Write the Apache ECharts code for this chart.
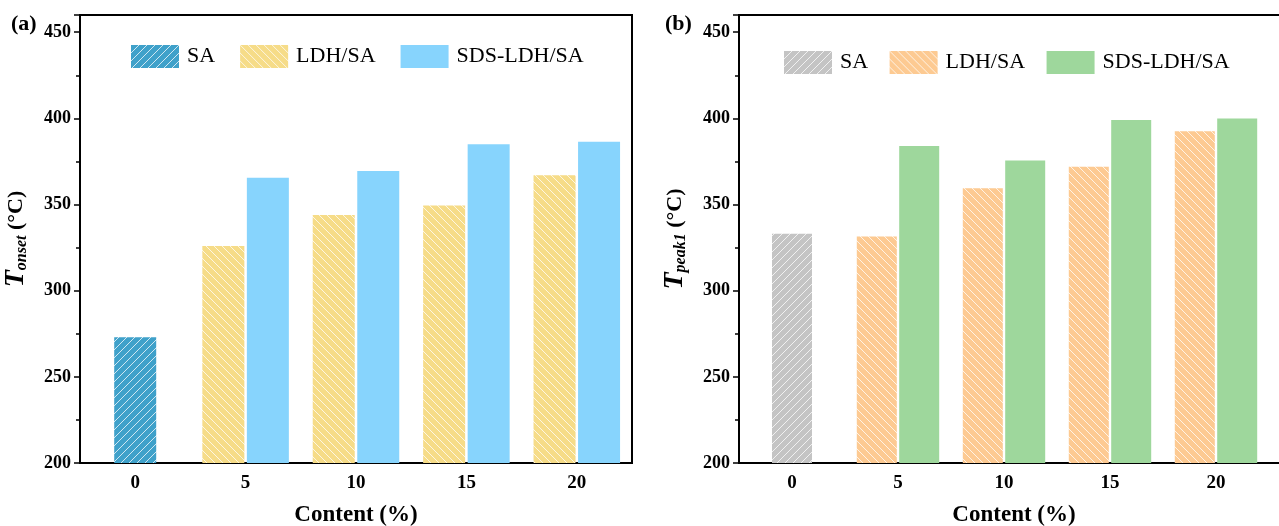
<!DOCTYPE html>
<html>
<head>
<meta charset="utf-8">
<script src="https://cdn.jsdelivr.net/npm/echarts@6/dist/echarts.min.js"></script>
<style>
  html, body { margin: 0; padding: 0; background: #fff; }
  #chart { width: 1279px; height: 526px; }
</style>
</head>
<body>
<div id="chart"></div>
<script>
// categories: content (%)
const contents = ['0', '5', '10', '15', '20']

// (a) onset temperature, °C
const onsetSA = [273, null, null, null, null]
const onsetLDH = [null, 326, 344, 349.5, 367]
const onsetSDS = [null, 365.5, 369.5, 385, 386.5]

// (b) first peak temperature, °C
const peakSA = [333, null, null, null, null]
const peakLDH = [null, 331.5, 359.5, 372, 392.5]
const peakSDS = [null, 384, 375.5, 399, 400]

const yTicks = { min: 200, max: 460, interval: 50 }

const FONT = '"Liberation Serif", "Times New Roman", serif'

// hatched fill: base colour + thin white diagonals
function hatch(base, dir) {
  const s = 8
  const c = document.createElement('canvas')
  c.width = s
  c.height = s
  const ctx = c.getContext('2d')
  ctx.fillStyle = base
  ctx.fillRect(0, 0, s, s)
  ctx.strokeStyle = 'rgba(255,255,255,0.75)'
  ctx.lineWidth = 1
  ctx.beginPath()
  if (dir === '/') {
    ctx.moveTo(-1, s + 1); ctx.lineTo(s + 1, -1)
    ctx.moveTo(-1, 1); ctx.lineTo(1, -1)
    ctx.moveTo(s - 1, s + 1); ctx.lineTo(s + 1, s - 1)
  } else {
    ctx.moveTo(-1, -1); ctx.lineTo(s + 1, s + 1)
    ctx.moveTo(-1, s - 1); ctx.lineTo(1, s + 1)
    ctx.moveTo(s - 1, -1); ctx.lineTo(s + 1, 1)
  }
  ctx.stroke()
  return { image: c, repeat: 'repeat' }
}

function yAxisOf(gridIndex, sub) {
  return {
    type: 'value',
    gridIndex,
    min: yTicks.min,
    max: yTicks.max,
    interval: yTicks.interval,
    name: '{t|T}{s|' + sub + '}{u| (°C)}',
    nameLocation: 'middle',
    nameGap: 50,
    nameTextStyle: {
      rich: {
        t: { fontFamily: FONT, fontSize: 28, fontStyle: 'italic', fontWeight: 'bold', color: '#000' },
        s: { fontFamily: FONT, fontSize: 16, fontStyle: 'italic', fontWeight: 'bold', color: '#000', verticalAlign: 'bottom', padding: [12, 0, 0, 0] },
        u: { fontFamily: FONT, fontSize: 22, fontWeight: 'bold', color: '#000' }
      }
    },
    axisLine: { show: true, lineStyle: { color: '#000', width: 2 } },
    axisTick: { show: true, length: 6, lineStyle: { color: '#000', width: 1.5 } },
    minorTick: { show: true, splitNumber: 2, length: 4, lineStyle: { color: '#000', width: 1.5 } },
    axisLabel: {
      color: '#000', fontFamily: FONT, fontSize: 18, fontWeight: 'bold', margin: 9,
      showMaxLabel: false
    },
    splitLine: { show: false }
  }
}

function xAxisOf(gridIndex, visible, namePad) {
  return {
    type: 'category',
    gridIndex,
    data: contents,
    show: visible,
    name: 'Content (%)',
    nameLocation: 'middle',
    nameGap: 41,
    nameTextStyle: { color: '#000', fontFamily: FONT, fontSize: 23, fontWeight: 'bold', padding: namePad },
    axisLine: { lineStyle: { color: '#000', width: 2 } },
    axisTick: { show: false },
    axisLabel: { color: '#000', fontFamily: FONT, fontSize: 19, fontWeight: 'bold', margin: 11 }
  }
}

function legendOf(left, top, gap, names) {
  return {
    left, top,
    data: names,
    icon: 'rect',
    itemWidth: 48,
    itemHeight: 23,
    itemGap: gap,
    selectedMode: false,
    textStyle: { color: '#000', fontFamily: FONT, fontSize: 22, padding: [0, 0, 0, 3] }
  }
}

function bar(name, data, xi, yi, color, width) {
  return {
    name,
    type: 'bar',
    xAxisIndex: xi,
    yAxisIndex: yi,
    data,
    barWidth: width,
    barGap: '6%',
    itemStyle: { color }
  }
}

const colA = { sa: '#3fa1ca', ldh: '#f6dc88', sds: '#87d4fd' }
const colB = { sa: '#c4c4c4', ldh: '#fdca92', sds: '#9ed79c' }

const chart = echarts.init(document.getElementById('chart'))

chart.setOption({
  animation: false,
  backgroundColor: '#fff',
  textStyle: { fontFamily: FONT },
  title: [
    { text: '(a)', left: 6, top: 8, textStyle: { fontFamily: FONT, fontSize: 22, fontWeight: 'bold', color: '#000' } },
    { text: '(b)', left: 660, top: 8, textStyle: { fontFamily: FONT, fontSize: 22, fontWeight: 'bold', color: '#000' } }
  ],
  legend: [
    legendOf(126, 40, 25, ['SA', 'LDH/SA', 'SDS-LDH/SA']),
    legendOf(779, 46, 16, ['SA ', 'LDH/SA ', 'SDS-LDH/SA '])
  ],
  grid: [
    { left: 80, top: 15, width: 552, height: 448, outerBoundsMode: 'none', show: true, borderColor: '#000', borderWidth: 2 },
    { left: 739, top: 15, width: 530, height: 448, outerBoundsMode: 'none', show: false },
    // outer frame of (b), its right edge runs past the picture
    { left: 739, top: 15, width: 580, height: 448, outerBoundsMode: 'none', show: true, borderColor: '#000', borderWidth: 2 }
  ],
  xAxis: [
    xAxisOf(0, true, [0, 0, 0, 0]),
    xAxisOf(0, false, [0, 0, 0, 0]),
    xAxisOf(1, true, [0, 0, 0, 20]),
    xAxisOf(1, false, [0, 0, 0, 0]),
    { type: 'category', gridIndex: 2, show: false, data: contents }
  ],
  yAxis: [
    yAxisOf(0, 'onset'),
    yAxisOf(1, 'peak1'),
    { type: 'value', gridIndex: 2, show: false }
  ],
  series: [
    bar('SA', onsetSA, 1, 0, hatch(colA.sa, '/'), 42),
    bar('LDH/SA', onsetLDH, 0, 0, hatch(colA.ldh, '\\'), 42),
    bar('SDS-LDH/SA', onsetSDS, 0, 0, colA.sds, 42),
    bar('SA ', peakSA, 3, 1, hatch(colB.sa, '/'), 40),
    bar('LDH/SA ', peakLDH, 2, 1, hatch(colB.ldh, '\\'), 40),
    bar('SDS-LDH/SA ', peakSDS, 2, 1, colB.sds, 40)
  ]
})
</script>
</body>
</html>
